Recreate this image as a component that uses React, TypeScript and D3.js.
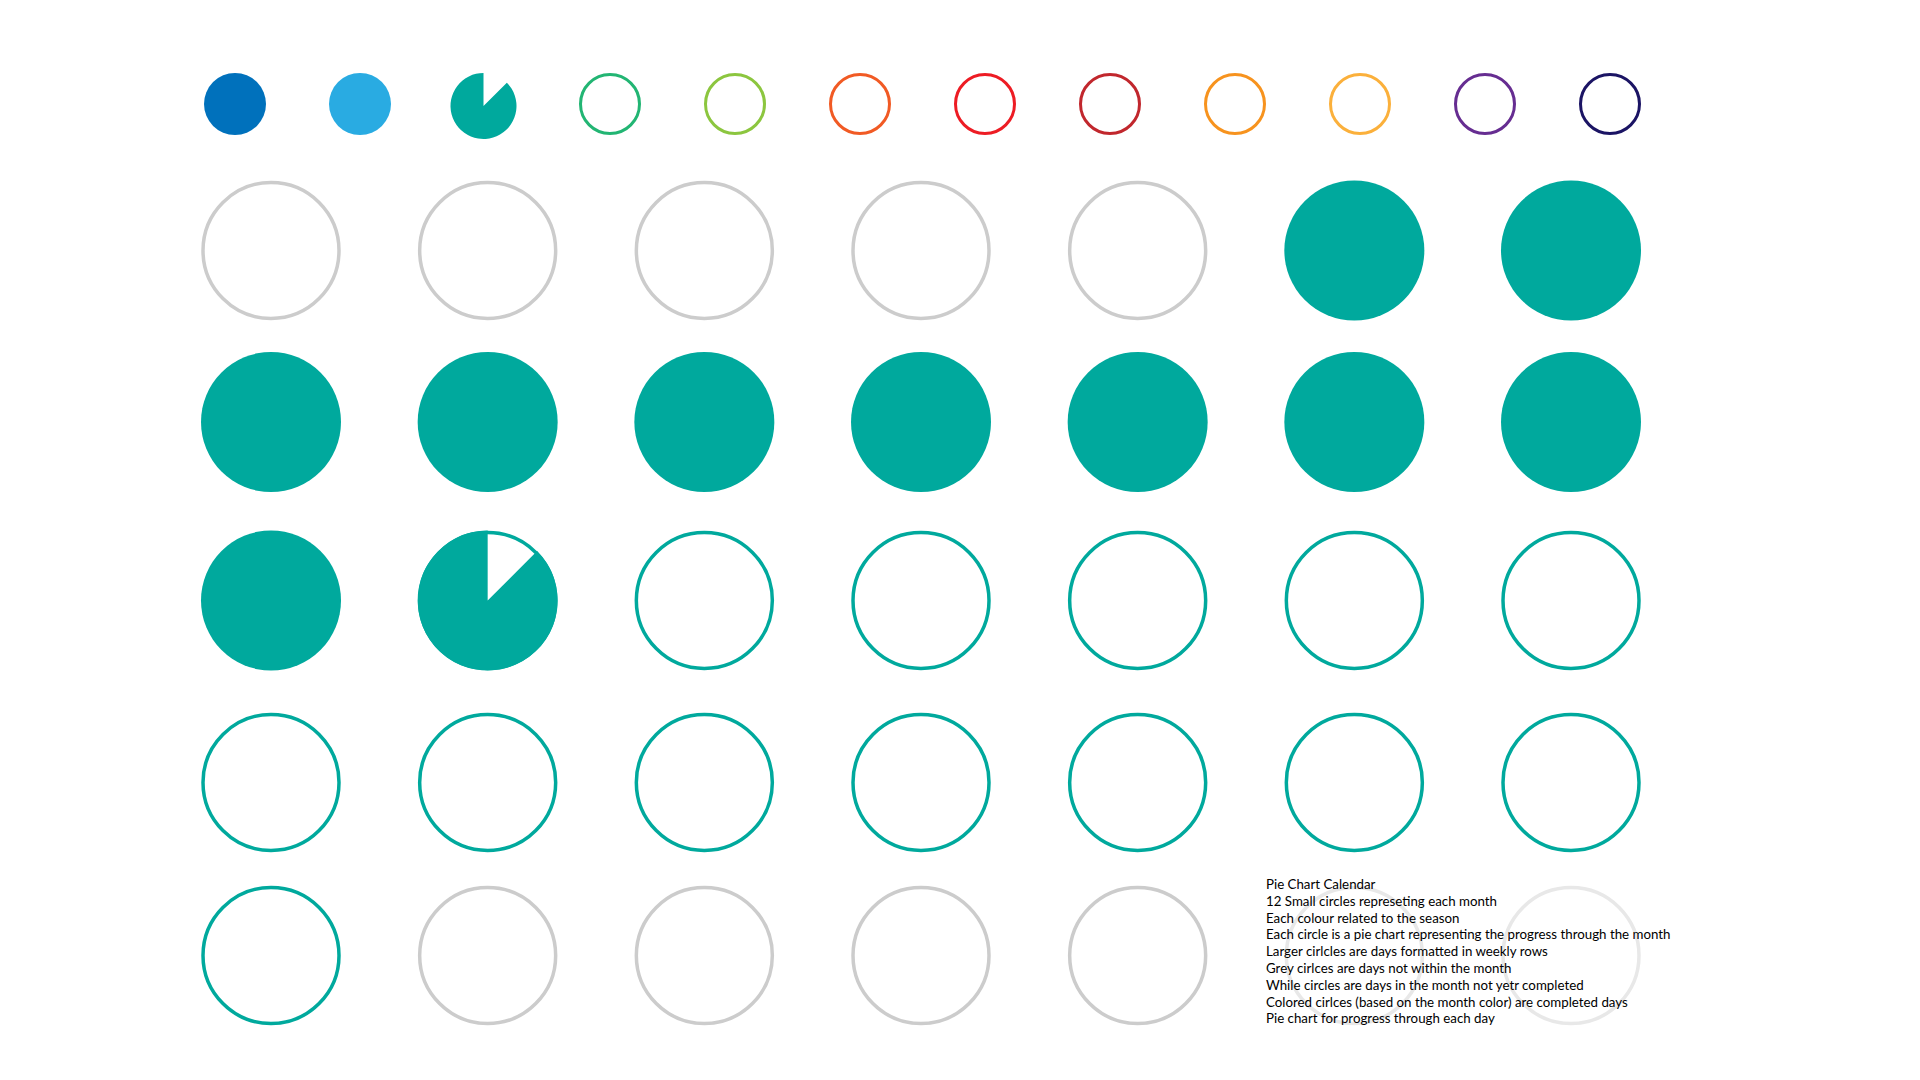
import * as d3 from "d3";

// month colours (one small circle per month)
const monthColors = [
  "#0071BC", "#29ABE2", "#00A99D", "#22B573", "#8CC63F", "#F15A24",
  "#ED1C24", "#C1272D", "#F7931E", "#FBB03B", "#662D91", "#1B1464",
];
// progress through each month: 1 = done, 0 = not started
const monthProgress = [1, 1, 0.875, 0, 0, 0, 0, 0, 0, 0, 0, 0];

// day cells in weekly rows, null = day outside the month
const dayProgress: (number | null)[] = [
  null, null, null, null, null, 1, 1,
  1, 1, 1, 1, 1, 1, 1,
  1, 0.875, 0, 0, 0, 0, 0,
  0, 0, 0, 0, 0, 0, 0,
  0, null, null, null, null, null, null,
];
const activeColor = "#00A99D";
const greyColor = "#CCCCCC";

const notes = [
  "Pie Chart Calendar",
  "12 Small circles represeting each month",
  "Each colour related to the season",
  "Each circle is a pie chart representing the progress through the month",
  "Larger cirlcles are days formatted in weekly rows",
  "Grey cirlces are days not within the month",
  "While circles are days in the month not yetr completed",
  "Colored cirlces (based on the month color) are completed days",
  "Pie chart for progress through each day",
];

const width = 1920;
const height = 1080;

export default function App() {
  // small month circles along the top
  const xMonth = d3.scalePoint<number>().domain(d3.range(12)).range([235, 1610]);
  const monthY = 104;

  // day grid (rows are spaced slightly unevenly in the original layout)
  const xDay = d3.scalePoint<number>().domain(d3.range(7)).range([271, 1571]);
  const yDay = d3.scaleLinear().domain([0, 1, 2, 3, 4]).range([250.5, 422, 600.5, 782.5, 955.5]);

  const pie = (r: number, p: number) =>
    d3.arc()({ innerRadius: 0, outerRadius: r, startAngle: (1 - p) * 2 * Math.PI, endAngle: 2 * Math.PI }) as string;

  return (
    <svg width={width} height={height} style={{ position: "absolute", left: 0, top: 0, background: "#fff" }}>
      <g>
        {monthColors.map((c, i) => {
          const p = monthProgress[i];
          const cx = xMonth(i)!;
          if (p >= 1) return <circle key={i} cx={cx} cy={monthY} r={31} fill={c} />;
          if (p <= 0) return <circle key={i} cx={cx} cy={monthY} r={29.5} fill="none" stroke={c} strokeWidth={3} />;
          return <path key={i} transform={`translate(${cx - 1.5},${monthY + 2})`} d={pie(33, p)} fill={c} />;
        })}
      </g>
      <g>
        {dayProgress.map((p, i) => {
          const cx = xDay(i % 7)!;
          const cy = yDay(Math.floor(i / 7));
          if (p === null)
            return <circle key={i} cx={cx} cy={cy} r={68} fill="none" stroke={greyColor} strokeWidth={3.5} />;
          if (p >= 1) return <circle key={i} cx={cx} cy={cy} r={70} fill={activeColor} />;
          return (
            <g key={i}>
              <circle cx={cx} cy={cy} r={68} fill="none" stroke={activeColor} strokeWidth={3.5} />
              {p > 0 && <path transform={`translate(${cx},${cy})`} d={pie(70, p)} fill={activeColor} />}
            </g>
          );
        })}
      </g>
      <rect x={1258} y={872} width={420} height={165} fill="#fff" opacity={0.55} />
      <g fontFamily="Lato, sans-serif" fontSize={13.3} fill="#000">
        {notes.map((t, i) => (
          <text key={i} x={1266} y={889 + i * 16.8}>{t}</text>
        ))}
      </g>
    </svg>
  );
}
